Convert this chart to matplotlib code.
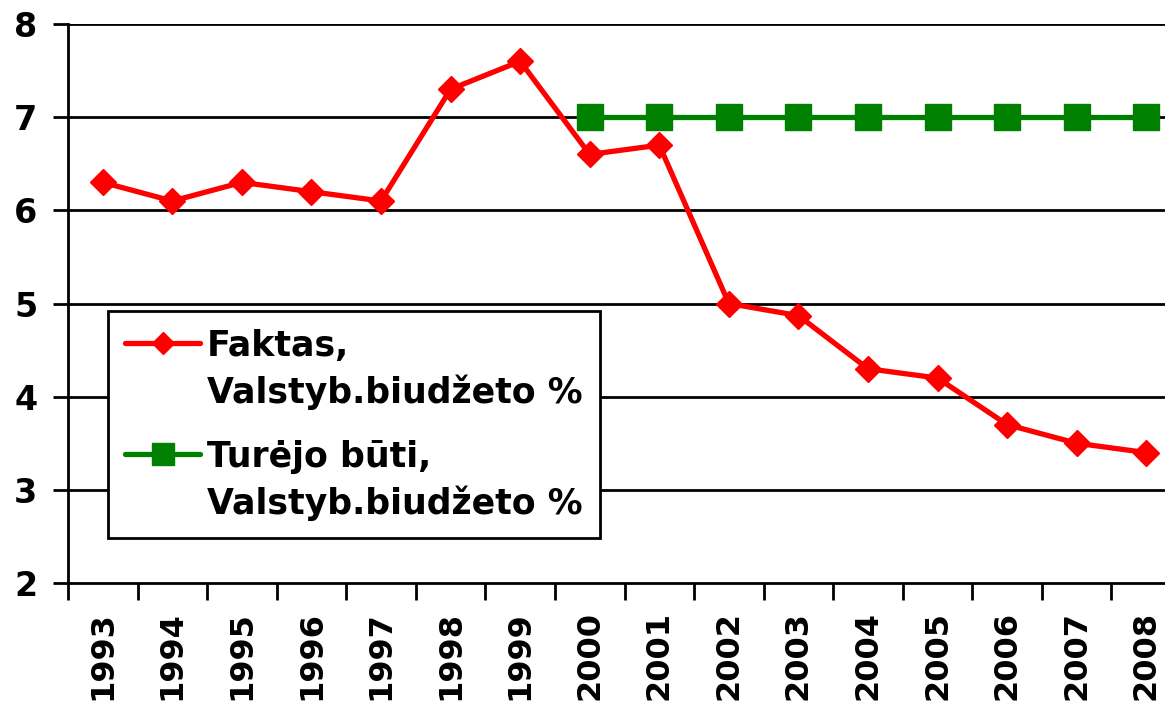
import matplotlib
matplotlib.use("Agg")
import matplotlib.pyplot as plt
from matplotlib.legend_handler import HandlerLine2D
import numpy as np

years = ["1993", "1994", "1995", "1996", "1997", "1998", "1999", "2000",
         "2001", "2002", "2003", "2004", "2005", "2006", "2007", "2008"]
faktas = [6.3, 6.1, 6.3, 6.2, 6.1, 7.3, 7.6, 6.6, 6.7, 5.0, 4.87, 4.3, 4.2, 3.7, 3.5, 3.4]
turejo_years = ["2000", "2001", "2002", "2003", "2004", "2005", "2006", "2007", "2008"]
turejo = [7, 7, 7, 7, 7, 7, 7, 7, 7]
yticks = [2, 3, 4, 5, 6, 7, 8]

plt.rcParams['font.family'] = ['DejaVu Sans']
plt.rcParams['font.weight'] = 'bold'

W, H = 1165, 710
fig = plt.figure(figsize=(W / 100, H / 100), dpi=100)
ax = fig.add_axes([68 / W, (H - 583) / H, (1181 - 68) / W, (583 - 24) / H])

x = np.arange(len(years))
xt = [years.index(y) for y in turejo_years]

ax.plot(x, faktas, color='#FF0000', lw=3.8, marker='D', ms=13.5,
        solid_capstyle='round', label='Faktas,\nValstyb.biudžeto %', zorder=3)
ax.plot(xt, turejo, color='#008000', lw=3.8, marker='s', ms=19,
        solid_capstyle='round', label='Turėjo būti,\nValstyb.biudžeto %', zorder=3)

ax.set_xlim(-0.5, len(years) - 0.5)
ax.set_ylim(2, 8)
ax.set_yticks(yticks)
ax.set_yticklabels([str(v) for v in yticks], fontsize=24, fontweight='bold')
for v in yticks[1:]:
    ax.axhline(v, color='black', lw=2, zorder=1)

ax.set_xticks(x)
ax.set_xticklabels(years, rotation=90, fontsize=23, fontweight='bold')
ax.set_xticks(np.arange(-0.5, len(years), 1), minor=True)
ax.tick_params(axis='x', which='major', length=0, pad=20)
ax.tick_params(axis='x', which='minor', length=12, width=2, direction='out', color='black')
ax.tick_params(axis='y', which='major', length=11, width=2, direction='out', pad=11)

for s in ['top', 'right']:
    ax.spines[s].set_visible(False)
for s in ['left', 'bottom']:
    ax.spines[s].set_linewidth(2)
    ax.spines[s].set_color('black')


class TopHandler(HandlerLine2D):
    def create_artists(self, legend, orig_handle, xdescent, ydescent, width, height,
                       fontsize, trans):
        arts = super().create_artists(legend, orig_handle, xdescent, ydescent, width,
                                      height, fontsize, trans)
        for a in arts:
            yd = np.asarray(a.get_ydata(), dtype=float)
            a.set_ydata(yd + 0.8 * fontsize)
        return arts


lfs = 25
leg = ax.legend(loc='lower left',
                bbox_to_anchor=((108 - 68) / (1181 - 68), (583 - 538) / (583 - 24)),
                prop={'weight': 'bold', 'size': lfs}, frameon=True, fancybox=False,
                handlelength=2.15, handletextpad=0.2, labelspacing=0.87, borderpad=0.5,
                edgecolor='black', borderaxespad=0, markerscale=0.8,
                handler_map={matplotlib.lines.Line2D: TopHandler()})
leg.get_frame().set_linewidth(2)
leg.get_frame().set_alpha(1)
for t in leg.get_texts():
    t.set_linespacing(1.4)

fig.savefig('out.png', dpi=100)
